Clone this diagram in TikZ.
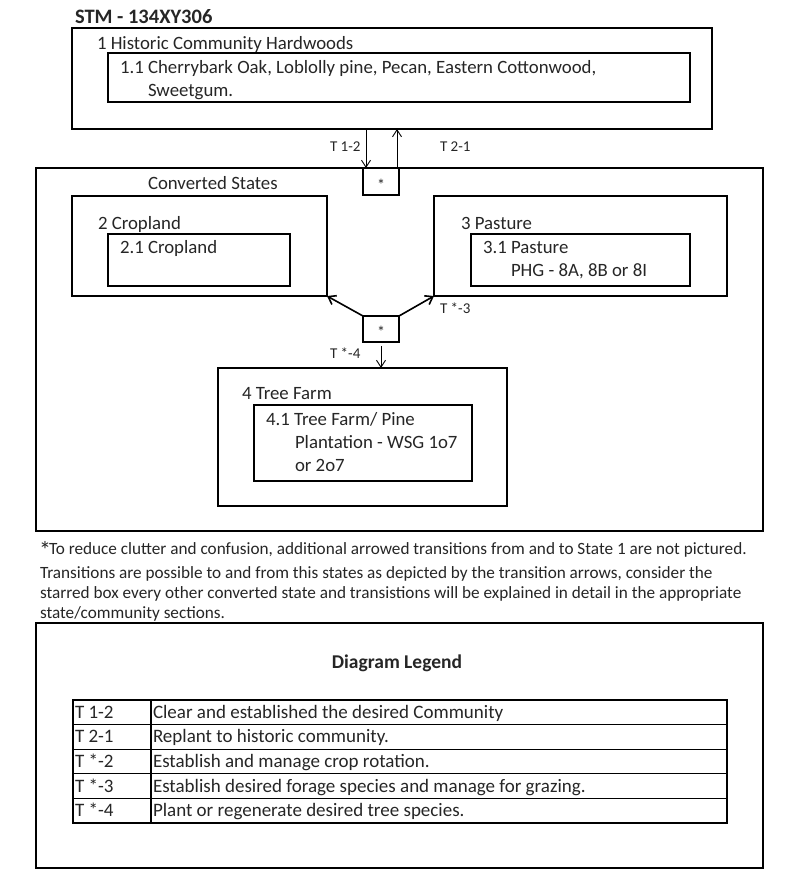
\documentclass[tikz,border=0pt]{standalone}
\usepackage{fontspec}
\setmainfont{Carlito}
\usetikzlibrary{arrows.meta}
\begin{document}
\begin{tikzpicture}[x=1pt,y=-1pt,
  every node/.style={inner sep=0pt, outer sep=0pt, text=black!85},
  bigbox/.style={draw, line width=1.8pt, anchor=north west},
  innerbox/.style={draw, line width=1.1pt, anchor=north west},
  starbox/.style={draw, line width=1.8pt, anchor=north west, minimum width=36pt, minimum height=27pt},
  lbl/.style={anchor=base west, font=\fontsize{18.8}{22}\selectfont, align=left},
  small/.style={anchor=base west, font=\fontsize{17.2}{20}\selectfont},
  tlbl/.style={anchor=base west, font=\fontsize{15}{16}\selectfont},
  startxt/.style={font=\fontsize{16}{16}\selectfont},
  legtxt/.style={anchor=base west, font=\fontsize{19}{20}\selectfont},
  thinarr/.style={-{Straight Barb[length=7pt,width=9pt]}, line width=0.9pt},
  thickarr/.style={-{Straight Barb[length=7pt,width=10pt]}, line width=1.6pt},
  rowbox/.style={draw, line width=1.2pt, anchor=north west, minimum width=654pt, minimum height=24.6pt},
]
\fill[white] (0,0) rectangle (800,876);
\useasboundingbox (0,0) rectangle (800,876);

\node[anchor=base west, font=\fontsize{20.5}{22}\selectfont\bfseries] (title) at (75,23) {STM - 134XY306};

% State 1
\node[bigbox, minimum width=640pt, minimum height=101pt] (b1) at (72,28) {};
\node[lbl] (t1) at (97,49) {1 Historic Community Hardwoods};
\node[innerbox, minimum width=582pt, minimum height=49pt] (i1) at (108,53) {};
\node[lbl] (t11) at (120,73) {1.1 Cherrybark Oak, Loblolly pine, Pecan, Eastern Cottonwood,};
\node[lbl] (t11b) at (148,96) {Sweetgum.};

% Converted states
\node[bigbox, minimum width=727pt, minimum height=363pt] (conv) at (36,168) {};
\node[lbl] (tconv) at (148,189) {Converted States};
\node[starbox] (s1) at (363,168) {};
\node[startxt] (s1t) at ([yshift=-3pt]s1.center) {*};

\coordinate (a12e) at ([xshift=-15pt]s1.north);
\coordinate (a21s) at ([xshift=16pt]s1.north);
\draw[thinarr] (a12e |- b1.south) -- (a12e);
\draw[thinarr] (a21s) -- (a21s |- b1.south);
\node[tlbl] (lt12) at (330,151) {T 1-2};
\node[tlbl] (lt21) at (440,151) {T 2-1};

% State 2
\node[bigbox, minimum width=255pt, minimum height=100pt] (b2) at (72,196) {};
\node[lbl] (t2) at (98,229) {2 Cropland};
\node[innerbox, minimum width=182pt, minimum height=52pt] (i2) at (108,234) {};
\node[lbl] (t21) at (120,253) {2.1 Cropland};

% State 3
\node[bigbox, minimum width=293pt, minimum height=100pt] (b3) at (434,196) {};
\node[lbl] (t3) at (461,229) {3 Pasture};
\node[innerbox, minimum width=219pt, minimum height=52pt] (i3) at (471,234) {};
\node[lbl] (t31) at (483,253) {3.1 Pasture};
\node[lbl] (t31b) at (511,276) {PHG - 8A, 8B or 8I};

% middle star
\node[starbox, minimum height=26pt] (s2) at (363,316) {};
\node[startxt] (s2t) at ([yshift=-3pt]s2.center) {*};
\draw[thickarr] (s2.north west) -- (b2.south east);
\draw[thickarr] (s2.north east) -- (b3.south west);
\node[tlbl] (lt3) at (440,313) {T *-3};
\node[tlbl] (lt4) at (330,358) {T *-4};

% State 4
\node[bigbox, minimum width=289pt, minimum height=138pt] (b4) at (218,368) {};
\draw[thinarr] ([yshift=-4pt]s2.south) -- (s2.south |- b4.north);
\node[lbl] (t4) at (242,399) {4 Tree Farm};
\node[innerbox, minimum width=218pt, minimum height=76pt] (i4) at (254,405) {};
\node[lbl] (t41) at (266,425) {4.1 Tree Farm/ Pine};
\node[lbl] (t41b) at (295,448) {Plantation - WSG 1o7};
\node[lbl] (t41c) at (295,471) {or 2o7};

% footnote
\node[anchor=base west, font=\fontsize{24}{24}\selectfont] (fstar) at (39,558) {*};
\node[small] (f1) at (49,554) {To reduce clutter and confusion, additional arrowed transitions from and to State 1 are not pictured.};
\node[small] (f2) at (40,578) {Transitions are possible to and from this states as depicted by the transition arrows, consider the};
\node[small] (f3) at (40,598) {starred box every other converted state and transistions will be explained in detail in the appropriate};
\node[small] (f4) at (40,618) {state/community sections.};

% Legend
\node[bigbox, minimum width=727pt, minimum height=245pt] (leg) at (36,623) {};
\node[anchor=base, font=\fontsize{19.5}{20}\selectfont\bfseries] (legt) at (397,668) {Diagram Legend};

\node[rowbox] (r1) at (73,700) {};
\node[rowbox] (r2) at (r1.south west) {};
\node[rowbox] (r3) at (r2.south west) {};
\node[rowbox] (r4) at (r3.south west) {};
\node[rowbox] (r5) at (r4.south west) {};
\draw[line width=1.2pt] ([xshift=78pt]r1.north west) coordinate (c1) -- (c1 |- r5.south);

\foreach \r/\k/\d in {r1/T 1-2/Clear and established the desired Community,
                      r2/T 2-1/Replant to historic community.,
                      r3/T *-2/Establish and manage crop rotation.,
                      r4/T *-3/Establish desired forage species and manage for grazing.,
                      r5/T *-4/Plant or regenerate desired tree species.}{
  \node[legtxt] (\r k) at ([xshift=2pt,yshift=-6pt]\r.west) {\k};
  \node[legtxt] (\r d) at ([xshift=80pt,yshift=-6pt]\r.west) {\d};
}
\end{tikzpicture}
\end{document}
